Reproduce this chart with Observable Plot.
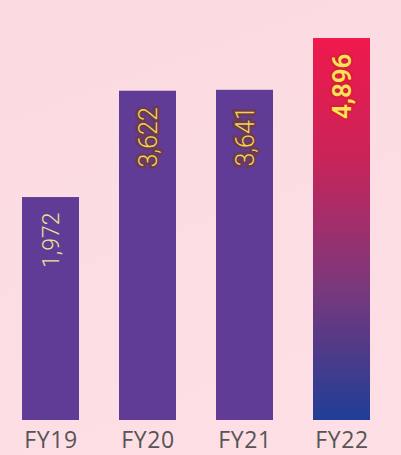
<!DOCTYPE html>
<html>
<head>
<meta charset="utf-8">
<script src="https://cdn.jsdelivr.net/npm/d3@7"></script>
<script src="https://cdn.jsdelivr.net/npm/@observablehq/plot@0.6"></script>
<style>
  html, body { margin: 0; padding: 0; }
  body {
    width: 401px; height: 455px; overflow: hidden;
    background: linear-gradient(160deg, #fbdbe1 0%, #fcdde3 50%, #fddfe5 100%);
  }
  #chart svg { display: block; background: transparent; }
  #chart svg g[aria-label="x-axis tick label"] text { letter-spacing: 0.6px; }
</style>
</head>
<body>
<div id="chart"></div>
<script>
// Data
const years = ["FY19", "FY20", "FY21", "FY22"];
const values = [1972, 3622, 3641, 4896];
const yDomain = [551, 6085];

const data = years.map((fy, i) => ({ fy, value: values[i] }));
const fmt = d3.format(",");

const chart = Plot.plot({
  width: 401,
  height: 455,
  marginTop: 0,
  marginBottom: 35,
  marginLeft: 21,
  marginRight: 31,
  style: { background: "transparent", fontFamily: "Roboto, sans-serif" },
  x: { domain: years, paddingInner: 0.414, paddingOuter: 0, label: null },
  y: { type: "log", domain: yDomain, axis: null },
  marks: [
    Plot.barY(data, {
      x: "fy",
      y1: yDomain[0],
      y2: "value",
      fill: d => d.fy === "FY22" ? "url(#g22)" : "#613c96"
    }),
    Plot.text(data.filter(d => d.fy === "FY19"), {
      x: "fy", y: "value", text: d => fmt(d.value),
      rotate: -90, textAnchor: "end", dy: 15, dx: 1,
      fontSize: 23, fontWeight: 300, fill: "#ece39a"
    }),
    Plot.text(data.filter(d => d.fy === "FY20" || d.fy === "FY21"), {
      x: "fy", y: "value", text: d => fmt(d.value),
      rotate: -90, textAnchor: "end", dy: 16, dx: 1,
      fontSize: 25, fontWeight: 300, fill: "#f3d44e",
      stroke: "#6b3a55", strokeWidth: 5, strokeLinejoin: "miter", paintOrder: "stroke"
    }),
    Plot.text(data.filter(d => d.fy === "FY22"), {
      x: "fy", y: "value", text: d => fmt(d.value),
      rotate: -90, textAnchor: "end", dy: 15, dx: 1,
      fontSize: 26, fontWeight: 600, fill: "#fbe35c",
      stroke: "#dd1c36", strokeWidth: 4, strokeLinejoin: "miter", paintOrder: "stroke"
    }),
    Plot.axisX({
      tickSize: 0, tickPadding: 11, fontSize: 23, fill: "#555", label: null,
      fontFamily: "Open Sans, sans-serif"
    })
  ]
});

// gradient for FY22 bar
const ns = "http://www.w3.org/2000/svg";
const defs = document.createElementNS(ns, "defs");
const grad = document.createElementNS(ns, "linearGradient");
grad.setAttribute("id", "g22");
grad.setAttribute("x1", "0"); grad.setAttribute("y1", "0");
grad.setAttribute("x2", "0"); grad.setAttribute("y2", "1");
[[0, "#f0194d"], [0.3, "#cc2358"], [0.65, "#7b387c"], [1, "#1f3e96"]].forEach(([o, c]) => {
  const s = document.createElementNS(ns, "stop");
  s.setAttribute("offset", o);
  s.setAttribute("stop-color", c);
  grad.appendChild(s);
});
defs.appendChild(grad);
chart.insertBefore(defs, chart.firstChild);

document.getElementById("chart").appendChild(chart);
</script>
</body>
</html>
